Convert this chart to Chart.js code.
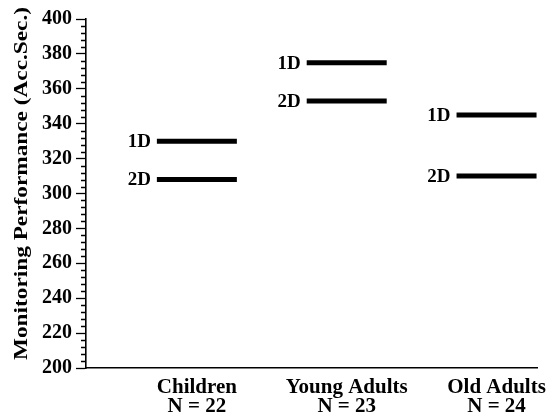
<!DOCTYPE html>
<html>
<head>
<meta charset="utf-8">
<script src="https://cdn.jsdelivr.net/npm/chart.js@4/dist/chart.umd.min.js"></script>
<style>
  html, body { margin: 0; padding: 0; background: #fff; }
  #wrap { width: 556px; height: 418px; }
</style>
</head>
<body>
<div id="wrap"><canvas id="c" width="556" height="418"></canvas></div>
<script>
// Age groups and their sample sizes
const groups = ['Children', 'Young Adults', 'Old Adults'];
const groupN = ['N = 22', 'N = 23', 'N = 24'];

// Mean monitoring performance per condition
const seriesNames = ['1D', '2D'];
const oneD = [330, 375, 345];
const twoD = [308, 353, 310];

// Y axis range and tick steps
const yMin = 200;
const yMax = 400;
const yMajorStep = 20;
const yMinorStep = 4;

const yTitle = 'Monitoring Performance (Acc.Sec.)';

const SERIF = '"Liberation Serif", "Times New Roman", Times, serif';
const SEG_HALF = 40;

const seriesValues = [oneD, twoD];

// Condition labels ("1D"/"2D") written just left of each level bar
const levelLabels = {
  id: 'levelLabels',
  afterDatasetsDraw(chart) {
    const ctx = chart.ctx;
    ctx.save();
    ctx.font = 'bold 19px ' + SERIF;
    ctx.fillStyle = '#000';
    ctx.textAlign = 'right';
    ctx.textBaseline = 'middle';
    chart.data.datasets.forEach((ds, i) => {
      chart.getDatasetMeta(i).data.forEach(pt => {
        ctx.fillText(ds.label, pt.x - SEG_HALF - 6, pt.y + 1);
      });
    });
    ctx.restore();
  }
};

// Short minor ticks between the labelled ones, plus the rotated axis title
const axisExtras = {
  id: 'axisExtras',
  afterDraw(chart) {
    const y = chart.scales.y;
    const ctx = chart.ctx;
    const area = chart.chartArea;
    const x0 = area.left;
    ctx.save();
    ctx.strokeStyle = '#000';
    ctx.lineWidth = 1.3;
    ctx.beginPath();
    for (let v = y.min; v <= y.max; v += yMinorStep) {
      if (v % yMajorStep === 0) continue;
      const py = Math.round(y.getPixelForValue(v)) + 0.5;
      ctx.moveTo(x0 - 5, py);
      ctx.lineTo(x0, py);
    }
    ctx.stroke();

    // axis title, set in a tall condensed-looking serif running bottom to top
    const top = y.getPixelForValue(yMax) - 12;
    const bottom = y.getPixelForValue(yMin) - 8;
    ctx.font = 'bold 19px ' + SERIF;
    ctx.fillStyle = '#000';
    ctx.textAlign = 'center';
    ctx.textBaseline = 'middle';
    const w = ctx.measureText(yTitle).width;
    ctx.translate(22, (top + bottom) / 2);
    ctx.rotate(-Math.PI / 2);
    ctx.scale((bottom - top) / w, 1);
    ctx.fillText(yTitle, 0, 0);
    ctx.restore();
  }
};

new Chart(document.getElementById('c'), {
  type: 'scatter',
  data: {
    datasets: seriesNames.map((name, s) => ({
      label: name,
      data: seriesValues[s].map((v, i) => ({ x: i + 1, y: v })),
      showLine: false,
      pointStyle: 'line',
      pointRadius: SEG_HALF,
      pointHoverRadius: SEG_HALF,
      pointBorderWidth: 5,
      pointHoverBorderWidth: 5,
      borderColor: '#000',
      backgroundColor: '#000'
    }))
  },
  options: {
    responsive: false,
    animation: false,
    events: [],
    layout: { autoPadding: false, padding: { top: 19, right: 19, left: 0, bottom: 0 } },
    plugins: {
      legend: { display: false },
      tooltip: { enabled: false }
    },
    scales: {
      x: {
        type: 'linear',
        min: 0.26,
        max: 3.27,
        afterBuildTicks(scale) {
          scale.ticks = groups.map((g, i) => ({ value: i + 1 }));
        },
        afterFit(scale) {
          scale.height = 50;
          scale.paddingLeft = 0;
          scale.paddingRight = 0;
        },
        grid: { display: false, drawTicks: false },
        border: { display: true, color: '#000', width: 1.6 },
        ticks: {
          autoSkip: false,
          maxRotation: 0,
          padding: 10,
          color: '#000',
          font: { family: SERIF, size: 21, weight: 'bold', lineHeight: 0.9 },
          callback: (v) => {
            const i = Math.round(v) - 1;
            return [groups[i], groupN[i]];
          }
        }
      },
      y: {
        min: yMin,
        max: yMax,
        afterFit(scale) {
          scale.width = 86;
        },
        grid: {
          drawOnChartArea: false,
          drawTicks: true,
          tickLength: 10,
          tickWidth: 1.3,
          tickColor: '#000'
        },
        border: { display: true, color: '#000', width: 1.6 },
        ticks: {
          stepSize: yMajorStep,
          padding: 4,
          color: '#000',
          font: { family: SERIF, size: 20, weight: 'bold' }
        },
        title: { display: false }
      }
    }
  },
  plugins: [levelLabels, axisExtras]
});
</script>
</body>
</html>
